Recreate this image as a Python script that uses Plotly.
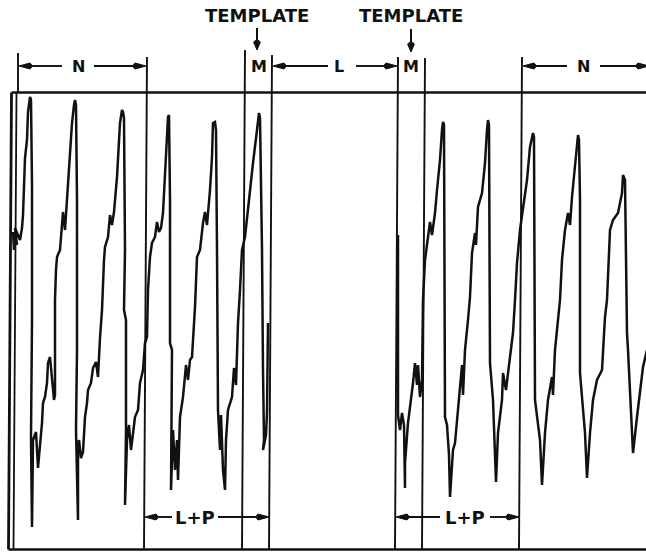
import plotly.graph_objects as go

# Recorded trace as (time, deflection) samples; deflection is measured downward
# from the top of the sheet, so the y axis is reversed below.
trace_before = [
    (14, 250), (13, 232), (17, 245), (15, 228), (20, 240), (22, 228), (23, 215),
    (25, 158), (27, 140), (28, 112), (30, 97), (31, 100),
    (32, 185), (32, 320), (31, 437), (32, 527),
    (33, 440), (36, 432), (38, 468), (40, 447), (42, 423), (43, 403), (45, 397),
    (47, 383), (48, 363), (50, 357), (52, 380), (54, 400), (55, 395), (55, 300),
    (56, 270), (57, 257), (60, 250), (62, 225), (63, 212), (65, 230), (66, 215),
    (68, 190), (70, 157), (72, 123), (74, 105), (75, 100), (76, 105),
    (77, 200), (77, 350), (76, 430), (78, 520),
    (78, 450), (79, 440), (81, 458), (83, 452), (85, 417), (87, 403), (88, 390),
    (91, 383), (93, 368), (96, 362), (98, 377), (100, 338), (102, 310), (104, 260),
    (105, 247), (108, 237), (110, 215), (112, 225), (114, 212), (117, 177),
    (118, 157), (120, 123), (122, 110), (123, 112), (124, 118),
    (125, 250), (124, 310), (126, 320), (126, 430), (125, 505),
    (127, 440), (129, 425), (131, 450), (133, 430), (135, 417), (138, 410),
    (140, 383), (143, 370), (145, 343), (147, 337), (148, 290), (150, 257),
    (152, 243), (155, 237), (157, 222), (159, 232), (161, 228), (163, 213),
    (165, 173), (167, 140), (168, 117), (169, 115),
    (170, 200), (170, 343), (172, 350), (171, 490),
    (173, 430), (175, 470), (177, 440), (178, 480), (180, 417), (183, 397),
    (186, 365), (188, 380), (190, 360), (192, 357), (195, 307), (197, 257),
    (200, 250), (203, 223), (205, 212), (207, 225), (210, 190), (212, 157),
    (213, 123), (215, 122), (216, 130),
    (217, 250), (218, 410),
    (220, 450), (221, 415), (223, 470), (225, 490), (226, 440), (228, 410),
    (232, 397), (234, 368), (236, 385), (238, 323), (240, 290), (242, 250),
    (245, 237), (247, 217), (250, 190), (253, 163), (257, 130), (259, 113),
    (260, 118),
    (262, 250), (263, 370), (264, 440), (263, 450),
    (266, 435), (267, 413), (268, 323),
]

trace_after = [
    (398, 235), (398, 415), (400, 430), (402, 413), (404, 425), (405, 488),
    (405, 463), (408, 423), (411, 400), (413, 383), (415, 363), (417, 385),
    (418, 365), (420, 397), (422, 380), (423, 300), (425, 260), (428, 237),
    (430, 222), (432, 235), (435, 213), (437, 190), (440, 160), (442, 130),
    (443, 122), (444, 125),
    (445, 300), (445, 417), (447, 425), (449, 455), (450, 497),
    (453, 450), (455, 443), (458, 410), (460, 383), (462, 365), (463, 395),
    (465, 350), (468, 320), (470, 297), (472, 253), (475, 233), (476, 245),
    (478, 207), (482, 193), (485, 163), (487, 130), (488, 120), (489, 125),
    (490, 300), (490, 363), (493, 400), (496, 482),
    (498, 433), (502, 400), (503, 373), (506, 390), (510, 357), (513, 333),
    (515, 300), (517, 263), (520, 230), (523, 207), (527, 180), (530, 147),
    (533, 133), (534, 137),
    (535, 300), (535, 400), (540, 440), (542, 485),
    (545, 433), (548, 400), (552, 377), (553, 395), (555, 350), (558, 317),
    (560, 300), (562, 260), (565, 230), (568, 213), (570, 225), (572, 197),
    (575, 167), (577, 150), (578, 135), (579, 140),
    (580, 200), (580, 373), (585, 433), (587, 478),
    (590, 433), (593, 400), (597, 380), (602, 370), (603, 350), (605, 317),
    (607, 300), (610, 230), (613, 220), (618, 213), (622, 193), (623, 175),
    (625, 180),
    (626, 300), (627, 333), (628, 350), (632, 427), (633, 453),
    (637, 417), (640, 393), (643, 367), (647, 350),
]

before_t = [p[0] for p in trace_before]
before_v = [p[1] for p in trace_before]
after_t = [p[0] for p in trace_after]
after_v = [p[1] for p in trace_after]

# Interval labels above and below the record
top_labels = ["N", "M", "L", "M", "N"]
bottom_labels = ["L+P", "L+P"]
template_label = "TEMPLATE"

INK = "#111111"
FONT = "DejaVu Sans"

fig = go.Figure()
for tt, vv in ((before_t, before_v), (after_t, after_v)):
    fig.add_trace(go.Scatter(
        x=tt, y=vv, mode="lines",
        line=dict(color=INK, width=2.5),
        hoverinfo="skip", showlegend=False,
    ))

shapes = []


def line(x0, y0, x1, y1, w=1.9):
    shapes.append(dict(type="line", xref="x", yref="y", x0=x0, y0=y0, x1=x1, y1=y1,
                       line=dict(color=INK, width=w), layer="above"))


def head(tx, ty, direction, length=14, half=3.0):
    # filled teardrop arrowhead with its tip at (tx, ty)
    if direction == "left":
        b = tx + length
        p = f"M {tx},{ty} L {b - 3},{ty - half} Q {b + 1},{ty} {b - 3},{ty + half} Z"
    elif direction == "right":
        b = tx - length
        p = f"M {tx},{ty} L {b + 3},{ty - half} Q {b - 1},{ty} {b + 3},{ty + half} Z"
    else:  # down
        b = ty - length
        p = f"M {tx},{ty} L {tx - half},{b + 3} Q {tx},{b - 1} {tx + half},{b + 3} Z"
    shapes.append(dict(type="path", xref="x", yref="y", path=p,
                       fillcolor=INK, line=dict(color=INK, width=1), layer="above"))


# Frame of the record
line(11.5, 92.5, 646, 92.5, 2.5)
line(8.5, 549.5, 646, 549.5, 2.5)
line(11.5, 92.5, 8.5, 549.5, 2.8)
line(16.5, 92.5, 13.5, 549.5, 1.8)

# Ruled interval boundaries (top x, bottom x), extended above the frame
for xt, xb, ytop in ((147, 144, 57), (245, 242, 50), (272, 269, 55),
                     (398, 395, 57), (425, 422, 58), (522, 519, 57)):
    line(xt, ytop, xb, 549.5)
line(18, 53, 18, 92.5)

# Upper dimension arrows
ya = 66
head(19, ya, "left"); line(30, ya, 62, ya)
line(94, ya, 136, ya); head(146, ya, "right")
head(273, ya, "left"); line(284, ya, 328, ya)
line(356, ya, 386, ya); head(397, ya, "right")
head(523, ya, "left"); line(534, ya, 567, ya)
line(600, ya, 640, ya); head(649, ya, "right")

# Lower dimension arrows
yb = 517
head(145, yb, "left"); line(156, yb, 172, yb)
line(218, yb, 258, yb); head(269, yb, "right")
head(396, yb, "left"); line(407, yb, 440, yb)
line(490, yb, 508, yb); head(519, yb, "right")

# Template pointers
line(257, 28, 257, 42, 2); head(257, 50, "down", length=11, half=3.4)
line(411, 29, 411, 44, 2); head(411, 52, "down", length=11, half=3.4)

annotations = []


def label(text, x, y, size):
    annotations.append(dict(text=text, x=x, y=y, xref="x", yref="y", showarrow=False,
                            xanchor="center", yanchor="middle",
                            font=dict(family=FONT, size=size, color=INK, weight="bold")))


for text, x in zip(top_labels, (78.5, 258.5, 339, 410.5, 583)):
    label(text, x, ya, 16)
for text, x in zip(bottom_labels, (195, 465)):
    label(text, x, yb, 18)
label(template_label, 257, 15, 18)
label(template_label, 410.5, 15, 18)

fig.update_layout(
    width=646, height=554,
    margin=dict(l=0, r=0, t=0, b=0),
    paper_bgcolor="white", plot_bgcolor="white",
    xaxis=dict(visible=False, range=[0, 646], fixedrange=True),
    yaxis=dict(visible=False, range=[554, 0], fixedrange=True),
    shapes=shapes, annotations=annotations,
    showlegend=False,
)

fig.write_html("out.html")
